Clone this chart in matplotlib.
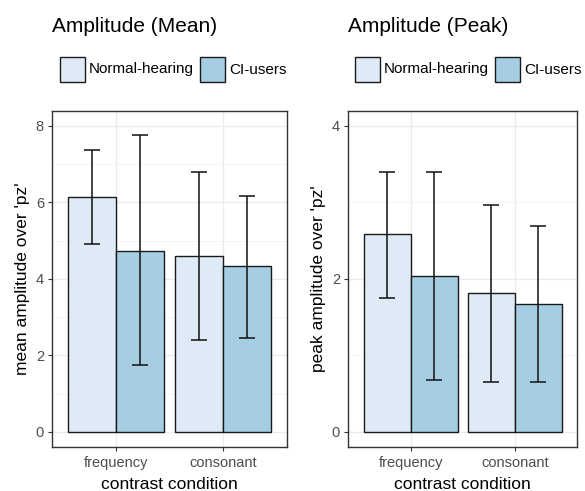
import matplotlib
matplotlib.use("Agg")
import matplotlib.pyplot as plt
import numpy as np
from matplotlib.patches import Rectangle

plt.rcParams['font.family'] = ['Liberation Sans', 'DejaVu Sans']

conditions = ["frequency", "consonant"]
groups = ["Normal-hearing", "CI-users"]
colors = ["#DEEBF7", "#A6CEE3"]

# mean amplitude (group x condition) with error bar bounds
mean_vals = [[6.13, 4.59], [4.74, 4.34]]
mean_lo = [[4.90, 2.41], [1.74, 2.46]]
mean_hi = [[7.37, 6.80], [7.76, 6.17]]

# peak amplitude
peak_vals = [[2.58, 1.81], [2.04, 1.675]]
peak_lo = [[1.75, 0.65], [0.68, 0.65]]
peak_hi = [[3.40, 2.96], [3.40, 2.69]]

W, H = 585, 491
fig = plt.figure(figsize=(W / 100, H / 100), dpi=100)

grey20 = "#333333"
grey30 = "#4D4D4D"


def panel(rect, title, vals, lo, hi, yticks, ylim, ylabel, leg_x, leg_gap):
    ax = fig.add_axes(rect)
    x = np.arange(1, len(conditions) + 1)
    bw = 0.45
    for gi in range(len(groups)):
        offs = (gi - 0.5) * bw
        ax.bar(x + offs, vals[gi], width=bw, color=colors[gi],
               edgecolor="#1a1a1a", linewidth=1.0, zorder=3)
        v = np.array(vals[gi])
        err = [v - np.array(lo[gi]), np.array(hi[gi]) - v]
        ax.errorbar(x + offs, v, yerr=err, fmt="none", ecolor="#111111",
                    elinewidth=1.1, capsize=5.6, capthick=1.1, zorder=4)
    ax.set_xlim(0.4, 2.6)
    ax.set_ylim(*ylim)
    ax.set_xticks(x)
    ax.set_xticklabels(conditions, fontsize=10.5, color=grey30)
    ax.set_yticks(yticks)
    ax.set_yticklabels([str(t) for t in yticks], fontsize=10.5, color=grey30)
    minor = [(a + b) / 2 for a, b in zip(yticks[:-1], yticks[1:])]
    ax.set_yticks(minor, minor=True)
    ax.tick_params(axis="y", which="minor", length=0)
    ax.tick_params(axis="both", which="major", length=3, width=0.8,
                   color=grey20, pad=3)
    ax.tick_params(axis="x", which="major", pad=4)
    ax.grid(True, which="major", color="#EBEBEB", linewidth=1.0, zorder=0)
    ax.grid(True, which="minor", axis="y", color="#F2F2F2", linewidth=0.6,
            zorder=0)
    ax.set_axisbelow(True)
    for s in ax.spines.values():
        s.set_color(grey20)
        s.set_linewidth(1.0)
    ax.set_xlabel("contrast condition", fontsize=12.5, labelpad=5)
    ax.set_ylabel(ylabel, fontsize=12.5, labelpad=4)

    # title
    fig.text(rect[0], 1 - 27 / H, title, fontsize=15, va="center",
             ha="left", color="black")
    # legend
    ly = 1 - 82 / H
    bh = 25 / H
    bwid = 25 / W
    x0 = leg_x
    fig.add_artist(Rectangle((x0 / W, ly), bwid, bh, transform=fig.transFigure,
                             facecolor=colors[0], edgecolor="#1a1a1a",
                             linewidth=1.0))
    fig.text((x0 + 29) / W, ly + bh / 2, groups[0], fontsize=11,
             va="center", ha="left")
    x1 = x0 + leg_gap
    fig.add_artist(Rectangle((x1 / W, ly), bwid, bh, transform=fig.transFigure,
                             facecolor=colors[1], edgecolor="#1a1a1a",
                             linewidth=1.0))
    fig.text((x1 + 29) / W, ly + bh / 2, groups[1], fontsize=11,
             va="center", ha="left")
    return ax


panel([52.3 / W, 1 - 446.7 / H, 234.4 / W, 335.7 / H], "Amplitude (Mean)",
      mean_vals, mean_lo, mean_hi, [0, 2, 4, 6, 8], (-0.39, 8.39),
      "mean amplitude over 'pz'", 60, 140)
panel([348.3 / W, 1 - 446.7 / H, 229.0 / W, 335.7 / H], "Amplitude (Peak)",
      peak_vals, peak_lo, peak_hi, [0, 2, 4], (-0.195, 4.195),
      "peak amplitude over 'pz'", 355, 140)

fig.savefig("out.png", dpi=100)
